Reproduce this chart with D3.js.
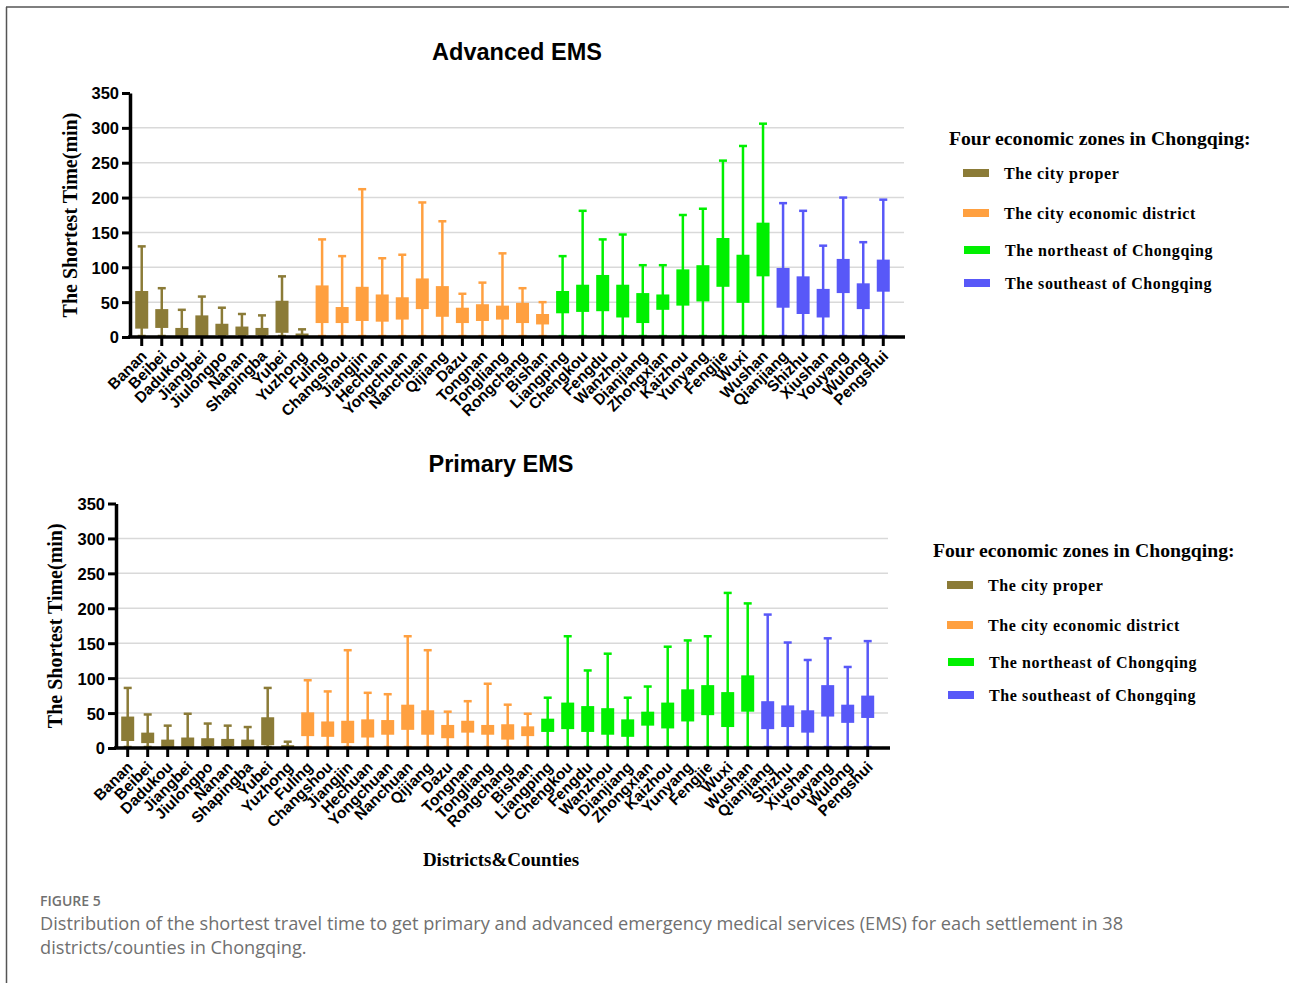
<!DOCTYPE html>
<html>
<head>
<meta charset="utf-8">
<script src="https://cdn.jsdelivr.net/npm/d3@7"></script>
<style>
  body { margin: 0; background: #fff; }
  svg { display: block; }
  .tick-label { font-family: "Liberation Sans", Arial, sans-serif; font-weight: bold; font-size: 16.5px; fill: #000; }
  .cat-label { font-family: "Liberation Sans", Arial, sans-serif; font-weight: bold; font-size: 15.5px; fill: #000; }
  .panel-title { font-family: "Liberation Sans", Arial, sans-serif; font-weight: bold; font-size: 23.5px; }
  .serif { font-family: "Liberation Serif", "Times New Roman", serif; font-weight: bold; }
  .caption { font-family: "Open Sans", sans-serif; fill: #707070; }
</style>
</head>
<body>
<div id="chart"></div>
<script>
const districts = [
  "Banan", "Beibei", "Dadukou", "Jiangbei", "Jiulongpo", "Nanan", "Shapingba", "Yubei", "Yuzhong",
  "Fuling", "Changshou", "Jiangjin", "Hechuan", "Yongchuan", "Nanchuan", "Qijiang", "Dazu", "Tongnan",
  "Tongliang", "Rongchang", "Bishan",
  "Liangping", "Chengkou", "Fengdu", "Wanzhou", "Dianjiang", "Zhongxian", "Kaizhou", "Yunyang",
  "Fengjie", "Wuxi", "Wushan",
  "Qianjiang", "Shizhu", "Xiushan", "Youyang", "Wulong", "Pengshui"
];
const zoneOf = [
  0, 0, 0, 0, 0, 0, 0, 0, 0,
  1, 1, 1, 1, 1, 1, 1, 1, 1, 1, 1, 1,
  2, 2, 2, 2, 2, 2, 2, 2, 2, 2, 2,
  3, 3, 3, 3, 3, 3
];
const zoneNames = [
  "The city proper",
  "The city economic district",
  "The northeast of Chongqing",
  "The southeast of Chongqing"
];
const zoneColors = ["#8b7b37", "#ffa040", "#00f000", "#5858f8"];
const yTicks = [0, 50, 100, 150, 200, 250, 300, 350];

// Advanced EMS (minutes)
const advancedMax = [130, 70, 39, 58, 42, 33, 31, 87, 11,
  140, 116, 212, 113, 118, 193, 166, 62, 78, 120, 70, 50,
  116, 181, 140, 147, 103, 103, 175, 184, 253, 274, 306,
  192, 181, 131, 200, 136, 197];
const advancedQ3 = [66, 40, 13, 31, 19, 15, 13, 52, 5,
  74, 43, 72, 61, 57, 84, 73, 42, 47, 45, 49, 33,
  66, 75, 89, 75, 63, 61, 97, 103, 142, 118, 164,
  99, 87, 69, 112, 77, 111];
const advancedQ1 = [12, 13, 1.5, 1.5, 2.5, 2.5, 2.5, 6, 1,
  20, 20, 23, 22, 25, 40, 29, 20, 23, 25, 20, 18,
  34, 36, 37, 28, 20, 39, 45, 51, 72, 49, 87,
  42, 33, 28, 63, 40, 65];
const advancedMin = new Array(38).fill(0);

// Primary EMS (minutes)
const primaryMax = [86, 48, 32, 49, 35, 32, 30, 86, 9,
  97, 81, 140, 79, 77, 160, 140, 52, 67, 92, 62, 49,
  72, 160, 111, 135, 72, 88, 145, 154, 160, 222, 207,
  191, 151, 126, 157, 116, 153];
const primaryQ3 = [45, 22, 12, 15, 14, 13, 12, 44, 4,
  51, 38, 39, 41, 40, 62, 54, 33, 39, 33, 34, 31,
  42, 65, 60, 57, 41, 52, 65, 84, 90, 80, 104,
  67, 61, 54, 90, 62, 75];
const primaryQ1 = [10, 7, 1, 1.5, 2.5, 2.5, 1.5, 4, 1,
  17, 16, 7, 15, 19, 26, 19, 14, 22, 19, 12, 17,
  23, 27, 23, 19, 16, 32, 28, 38, 47, 30, 52,
  27, 30, 22, 45, 36, 43];
const primaryMin = new Array(38).fill(0);

const width = 1289;
const height = 983;

const svg = d3.select("#chart").append("svg")
  .attr("width", width)
  .attr("height", height);

// frame lines
svg.append("line").attr("x1", 6.5).attr("x2", 6.5).attr("y1", 7).attr("y2", height)
  .attr("stroke", "#555").attr("stroke-width", 1.5);
svg.append("line").attr("x1", 6).attr("x2", width).attr("y1", 7).attr("y2", 7)
  .attr("stroke", "#555").attr("stroke-width", 1.5);

function rows(maxs, q3s, q1s, mins) {
  return districts.map((name, i) => ({
    name, zone: zoneOf[i], max: maxs[i], q3: q3s[i], q1: q1s[i], min: mins[i]
  }));
}

function renderPanel({ title, titleX, titleY, data, bandRange, yRange, axisEnd, gridEnd, yTitleX, legendX, legendY }) {
  const g = svg.append("g");
  const x = d3.scaleBand().domain(districts).range(bandRange).padding(0);
  const y = d3.scaleLinear().domain([0, 350]).range(yRange);
  const x0 = bandRange[0] - 1.7;

  g.append("text").attr("class", "panel-title")
    .attr("x", titleX).attr("y", titleY).attr("text-anchor", "middle").text(title);

  // gridlines
  g.append("g").selectAll("line")
    .data(yTicks.filter((d) => d > 0 && d < 350))
    .join("line")
    .attr("x1", x0).attr("x2", gridEnd)
    .attr("y1", (d) => y(d)).attr("y2", (d) => y(d))
    .attr("stroke", "#d9d9d9").attr("stroke-width", 1.5);

  // boxes
  const box = g.append("g").selectAll("g")
    .data(data)
    .join("g")
    .attr("transform", (d) => `translate(${x(d.name) + x.bandwidth() / 2},0)`)
    .attr("fill", (d) => zoneColors[d.zone])
    .attr("stroke", (d) => zoneColors[d.zone]);

  box.append("line")
    .attr("y1", (d) => y(d.min)).attr("y2", (d) => y(d.max))
    .attr("stroke-width", 2.5);
  box.append("line")
    .attr("x1", -4).attr("x2", 4)
    .attr("y1", (d) => y(d.max)).attr("y2", (d) => y(d.max))
    .attr("stroke-width", 2.5);
  box.append("line")
    .attr("x1", -4).attr("x2", 4)
    .attr("y1", (d) => y(d.min) - 1).attr("y2", (d) => y(d.min) - 1)
    .attr("stroke-width", 2.5);
  box.append("rect")
    .attr("x", -6.5).attr("width", 13)
    .attr("y", (d) => y(d.q3))
    .attr("height", (d) => y(d.q1) - y(d.q3))
    .attr("stroke", "none");

  // y axis
  const yAxis = g.append("g")
    .attr("transform", `translate(${x0},0)`)
    .call(d3.axisLeft(y).tickValues(yTicks).tickSize(8).tickSizeOuter(0).tickPadding(3));
  yAxis.select(".domain").attr("stroke-width", 3.5);
  yAxis.selectAll(".tick line").attr("stroke-width", 3);
  yAxis.selectAll(".tick text").attr("class", "tick-label").attr("dy", "0.36em");

  // x axis
  const xAxis = g.append("g")
    .attr("transform", `translate(0,${yRange[0]})`)
    .call(d3.axisBottom(x).tickSize(9).tickSizeOuter(0).tickPadding(2));
  xAxis.select(".domain").attr("d", `M${x0 - 2},0H${axisEnd}`).attr("stroke-width", 3.5);
  xAxis.selectAll(".tick line").attr("stroke-width", 3);
  xAxis.selectAll(".tick text")
    .attr("class", "cat-label")
    .attr("text-anchor", "end")
    .attr("dy", 0)
    .attr("transform", "translate(6,20) rotate(-45)")
    .attr("y", 0).attr("x", 0);

  // y title
  g.append("text").attr("class", "serif")
    .attr("transform", `translate(${yTitleX},${(yRange[0] + yRange[1]) / 2}) rotate(-90)`)
    .attr("text-anchor", "middle")
    .attr("font-size", 20)
    .text("The Shortest Time(min)");

  // legend
  const legend = g.append("g").attr("transform", `translate(${legendX},${legendY})`);
  legend.append("text").attr("class", "serif").attr("font-size", 19.7)
    .attr("x", 0).attr("y", 0).text("Four economic zones in Chongqing:");
  const legendRowY = [28, 68, 105, 138];
  const item = legend.selectAll(".item")
    .data(zoneNames)
    .join("g")
    .attr("class", "item")
    .attr("transform", (d, i) => `translate(${14 + (i > 1 ? 1 : 0)},${legendRowY[i]})`);
  item.append("rect")
    .attr("x", 0).attr("y", -4).attr("width", 26).attr("height", 8)
    .attr("fill", (d, i) => zoneColors[i]);
  item.append("text").attr("class", "serif")
    .attr("x", 41).attr("y", 6)
    .attr("font-size", 16)
    .attr("letter-spacing", 0.6)
    .text((d) => d);
}

renderPanel({
  title: "Advanced EMS", titleX: 517, titleY: 60,
  data: rows(advancedMax, advancedQ3, advancedQ1, advancedMin),
  bandRange: [131.7, 893.3], yRange: [337, 93],
  axisEnd: 905, gridEnd: 904, yTitleX: 77,
  legendX: 949, legendY: 145
});

renderPanel({
  title: "Primary EMS", titleX: 501, titleY: 472,
  data: rows(primaryMax, primaryQ3, primaryQ1, primaryMin),
  bandRange: [117.7, 877.7], yRange: [748, 503.5],
  axisEnd: 890, gridEnd: 888, yTitleX: 62,
  legendX: 933, legendY: 557
});

svg.append("text").attr("class", "serif")
  .attr("x", 501).attr("y", 866).attr("text-anchor", "middle")
  .attr("font-size", 19).text("Districts&Counties");

svg.append("text").attr("class", "caption")
  .attr("x", 40).attr("y", 906).attr("font-size", 14).attr("font-weight", 600)
  .attr("fill", "#888").text("FIGURE 5");
svg.append("text").attr("class", "caption")
  .attr("x", 40).attr("y", 930).attr("font-size", 18.2)
  .text("Distribution of the shortest travel time to get primary and advanced emergency medical services (EMS) for each settlement in 38");
svg.append("text").attr("class", "caption")
  .attr("x", 40).attr("y", 954).attr("font-size", 18.2)
  .text("districts/counties in Chongqing.");
</script>
</body>
</html>
